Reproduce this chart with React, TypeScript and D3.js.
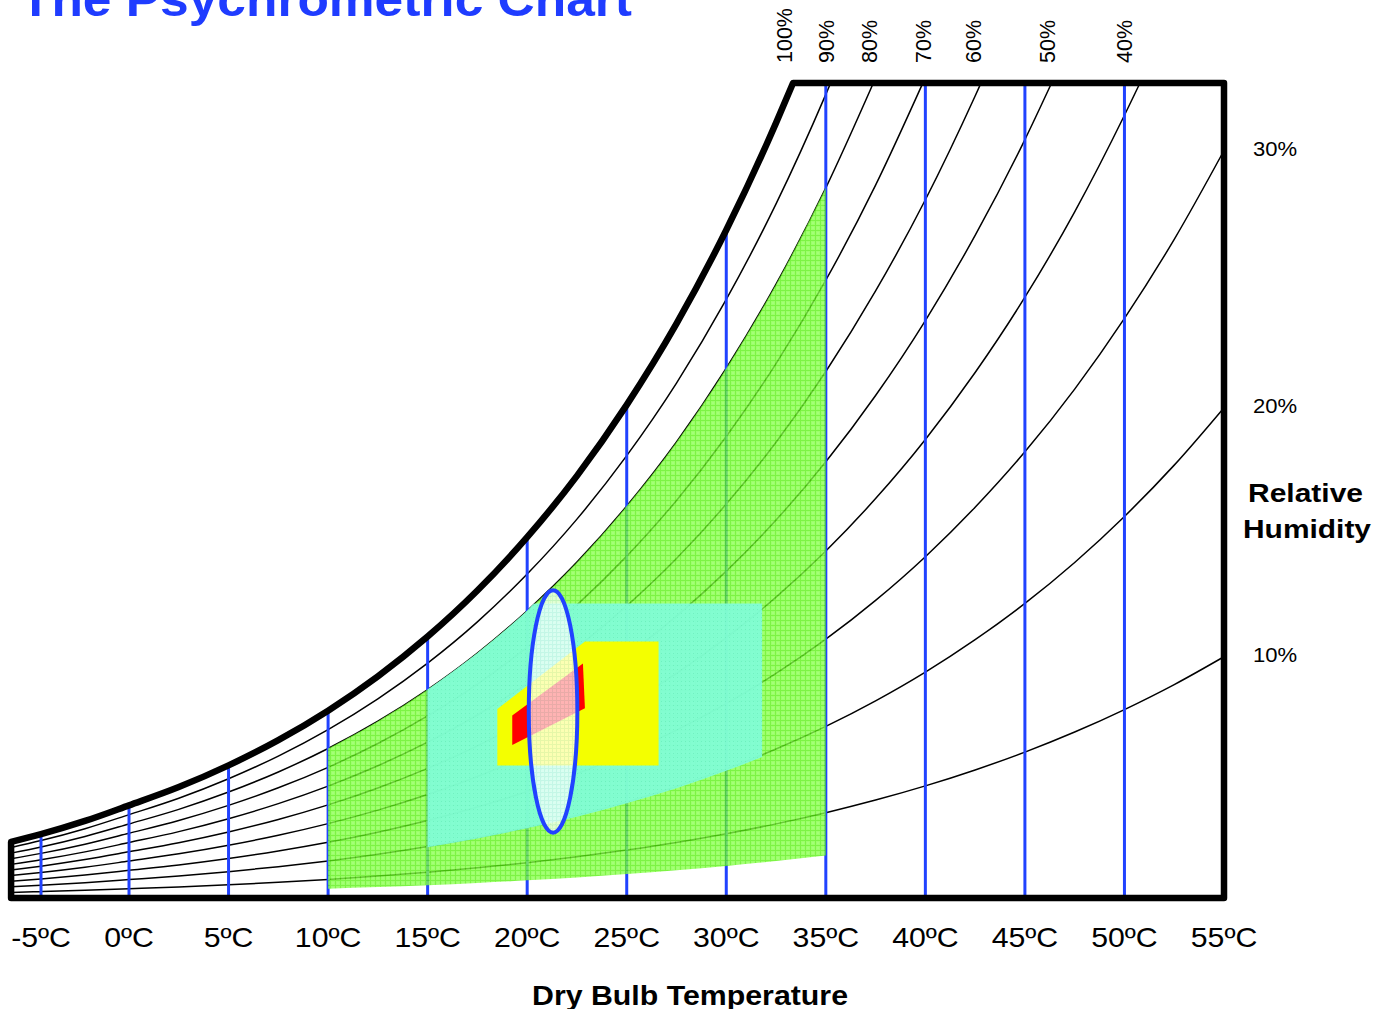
import React from 'react';
import * as d3 from 'd3';

// ---------- data ----------
const TEMP_TICKS = [-5, 0, 5, 10, 15, 20, 25, 30, 35, 40, 45, 50, 55];
const TEMP_TICK_LABELS = TEMP_TICKS.map((t) => `${t}ºC`);
const RH_LEVELS = [100, 90, 80, 70, 60, 50, 40, 30, 20, 10];
const TOP_LABEL_RH = [100, 90, 80, 70, 60, 50, 40];
const TOP_LABEL_TEMPS = [32.9, 35.0, 37.2, 39.9, 42.4, 46.1, 50.0];
const SIDE_LABEL_RH = [30, 20, 10];
// saturation vapour pressure over water (kPa)
const SAT_TEMPS = [-6.7, -5, -2.5, 0, 2.5, 5, 7.5, 10, 12.5, 15, 17.5, 20, 22.5, 25, 27.5, 30, 32.5, 35, 37.5, 40, 42.5, 45, 47.5, 50, 52.5, 55];
const SAT_PRESSURE_KPA = [0.371, 0.4218, 0.5087, 0.6112, 0.731, 0.8726, 1.037, 1.2282, 1.45, 1.7057, 2.0, 2.3392, 2.726, 3.1699, 3.673, 4.247, 4.895, 5.629, 6.457, 7.3849, 8.428, 9.5898, 10.894, 12.352, 13.967, 15.763];
const ATM_KPA = 101.325;
const T_MIN = -6.7;
const T_MAX = 55;
const W_MAX = 33.2; // g/kg at top of chart

const GREEN_ZONE = { tMin: 10, tMax: 35, rhLow: 5, rhHigh: 80 };
const CYAN_ZONE = { tMin: 15, tMax: 31.8, rhLow: 19.7, rhHigh: 80, wMax: 12 };
const YELLOW_ZONE: [number, number][] = [[18.5, 5.4], [18.5, 7.7], [22.9, 10.45], [26.6, 10.45], [26.6, 5.4]];
const RED_ZONE: [number, number][] = [[19.25, 6.23], [19.25, 7.43], [22.8, 9.55], [22.9, 7.73]];
const ELLIPSE_ZONE = { t: 21.3, w: 7.6, dt: 1.22, dw: 4.94 };

// ---------- layout ----------
const WIDTH = 1374;
const HEIGHT = 1009;
const FONT = '"Liberation Sans", Arial, Helvetica, sans-serif';
const BLUE = '#2142ff';

const x = d3.scaleLinear().domain([-5, 0, 55]).range([41, 129, 1224]);
const y = d3.scaleLinear().domain([0, W_MAX]).range([898, 83]);

const lnP = d3.scaleLinear().domain(SAT_TEMPS).range(SAT_PRESSURE_KPA.map(Math.log));
const psat = (t: number) => Math.exp(lnP(t));
const wOf = (rh: number, t: number) => {
  const pv = (rh / 100) * psat(t);
  return (622 * pv) / (ATM_KPA - pv);
};
const solveT = (rh: number, target: number, lo: number, hi: number) => {
  let a = lo, b = hi;
  for (let i = 0; i < 50; i++) {
    const m = (a + b) / 2;
    if (wOf(rh, m) < target) a = m; else b = m;
  }
  return (a + b) / 2;
};

const rhCurve = (rh: number): [number, number][] => {
  const pts: [number, number][] = [];
  for (let i = 0; i < SAT_TEMPS.length; i++) {
    const t = SAT_TEMPS[i];
    const w = wOf(rh, t);
    if (w <= W_MAX) pts.push([t, w]);
    else {
      const tc = solveT(rh, W_MAX, SAT_TEMPS[i - 1], t);
      pts.push([tc, W_MAX]);
      break;
    }
  }
  return pts;
};

const line = d3
  .line<[number, number]>()
  .x((d) => x(d[0]))
  .y((d) => y(d[1]))
  .curve(d3.curveMonotoneX);

const poly = d3
  .line<[number, number]>()
  .x((d) => x(d[0]))
  .y((d) => y(d[1]))
  .curve(d3.curveLinearClosed);

export default function App() {
  const satPts = rhCurve(100);
  const framePath =
    (line(satPts) as string) +
    `L${x(T_MAX)},${y(W_MAX)}L${x(T_MAX)},${y(0)}L${x(T_MIN)},${y(0)}Z`;

  // green zone
  const gTemps = SAT_TEMPS.filter((t) => t >= GREEN_ZONE.tMin && t <= GREEN_ZONE.tMax);
  const greenPath = d3
    .area<number>()
    .x((t) => x(t))
    .y0((t) => y(wOf(GREEN_ZONE.rhLow, t)))
    .y1((t) => y(wOf(GREEN_ZONE.rhHigh, t)))
    .curve(d3.curveMonotoneX)(gTemps) as string;

  // cyan zone
  const tCross = solveT(CYAN_ZONE.rhHigh, CYAN_ZONE.wMax, CYAN_ZONE.tMin, CYAN_ZONE.tMax);
  const cTemps = Array.from(
    new Set([CYAN_ZONE.tMin, ...SAT_TEMPS.filter((t) => t > CYAN_ZONE.tMin && t < CYAN_ZONE.tMax), tCross, CYAN_ZONE.tMax])
  ).sort((a, b) => a - b);
  const cyanPath = d3
    .area<number>()
    .x((t) => x(t))
    .y0((t) => y(wOf(CYAN_ZONE.rhLow, t)))
    .y1((t) => y(Math.min(wOf(CYAN_ZONE.rhHigh, t), CYAN_ZONE.wMax)))
    .curve(d3.curveMonotoneX)(cTemps) as string;

  const ex = x(ELLIPSE_ZONE.t);
  const ey = y(ELLIPSE_ZONE.w);
  const erx = x(ELLIPSE_ZONE.t + ELLIPSE_ZONE.dt) - ex;
  const ery = y(ELLIPSE_ZONE.w - ELLIPSE_ZONE.dw) - ey;

  return (
    <svg
      width={WIDTH}
      height={HEIGHT}
      style={{ position: 'absolute', left: 0, top: 0, background: '#fff' }}
      fontFamily={FONT}
    >
      <defs>
        <pattern id="greenPat" width="5" height="5" patternUnits="userSpaceOnUse">
          <rect width="5" height="5" fill="#80ff40" />
          <path d="M0 0.5H5M0.5 0V5" stroke="#58f010" strokeWidth="1" />
          <rect x="2.5" y="2.5" width="1" height="1" fill="#aaff80" />
        </pattern>
        <pattern id="cyanPat" width="4" height="4" patternUnits="userSpaceOnUse">
          <rect width="4" height="4" fill="#80fdd8" />
          <rect x="1" y="1" width="1" height="1" fill="#6cf0c6" />
        </pattern>
        <pattern id="ellPat" width="4" height="4" patternUnits="userSpaceOnUse">
          <rect width="4" height="4" fill="#ffffff" />
          <path d="M0 0.5H4M0.5 0V4" stroke="#e0f4f0" strokeWidth="1" />
        </pattern>
      </defs>

      {/* RH curves */}
      <g fill="none" stroke="#000" strokeWidth={1.5}>
        {RH_LEVELS.filter((r) => r < 100).map((rh) => (
          <path key={rh} d={line(rhCurve(rh)) as string} />
        ))}
      </g>

      {/* dry bulb lines */}
      <g stroke={BLUE} strokeWidth={3}>
        {TEMP_TICKS.filter((t) => t < T_MAX).map((t) => (
          <line key={t} x1={x(t)} x2={x(t)} y1={y(0)} y2={y(Math.min(wOf(100, t), W_MAX))} />
        ))}
      </g>

      {/* zones */}
      <path d={greenPath} fill="url(#greenPat)" opacity={0.78} />
      <path d={cyanPath} fill="url(#cyanPat)" opacity={0.93} />
      <path d={poly(YELLOW_ZONE) as string} fill="#f4ff00" />
      <path d={poly(RED_ZONE) as string} fill="#ff0000" />
      <ellipse cx={ex} cy={ey} rx={erx} ry={ery} fill="url(#ellPat)" fillOpacity={0.7} stroke={BLUE} strokeWidth={4} />

      {/* frame with saturation curve */}
      <path d={framePath} fill="none" stroke="#000" strokeWidth={6.5} strokeLinejoin="round" />

      {/* title */}
      <text x={20} y={16} fontSize={48} fontWeight="bold" fill="#1f3cff" textLength={612} lengthAdjust="spacingAndGlyphs">
        The Psychrometric Chart
      </text>

      {/* x tick labels */}
      {TEMP_TICKS.map((t, i) => (
        <text key={t} transform={`translate(${x(t)},947) scale(1.08,1)`} textAnchor="middle" fontSize={28} fill="#000">
          {TEMP_TICK_LABELS[i]}
        </text>
      ))}

      {/* top RH labels */}
      {TOP_LABEL_RH.map((rh, i) => (
        <text
          key={rh}
          transform={`translate(${x(TOP_LABEL_TEMPS[i])},63) rotate(-90)`}
          dy="0.36em"
          fontSize={21.5}
          fill="#000"
        >
          {`${rh}%`}
        </text>
      ))}

      {/* side RH labels */}
      {SIDE_LABEL_RH.map((rh) => (
        <text key={rh} transform={`translate(1253,${y(wOf(rh, T_MAX)) + 5}) scale(1.05,1)`} fontSize={21} fill="#000">
          {`${rh}%`}
        </text>
      ))}

      <text x={1248} y={502} fontSize={26} fontWeight="bold" textLength={115} lengthAdjust="spacingAndGlyphs">
        Relative
      </text>
      <text x={1243} y={538} fontSize={26} fontWeight="bold" textLength={128} lengthAdjust="spacingAndGlyphs">
        Humidity
      </text>
      <text x={532} y={1005} fontSize={27} fontWeight="bold" textLength={316} lengthAdjust="spacingAndGlyphs">
        Dry Bulb Temperature
      </text>
    </svg>
  );
}
